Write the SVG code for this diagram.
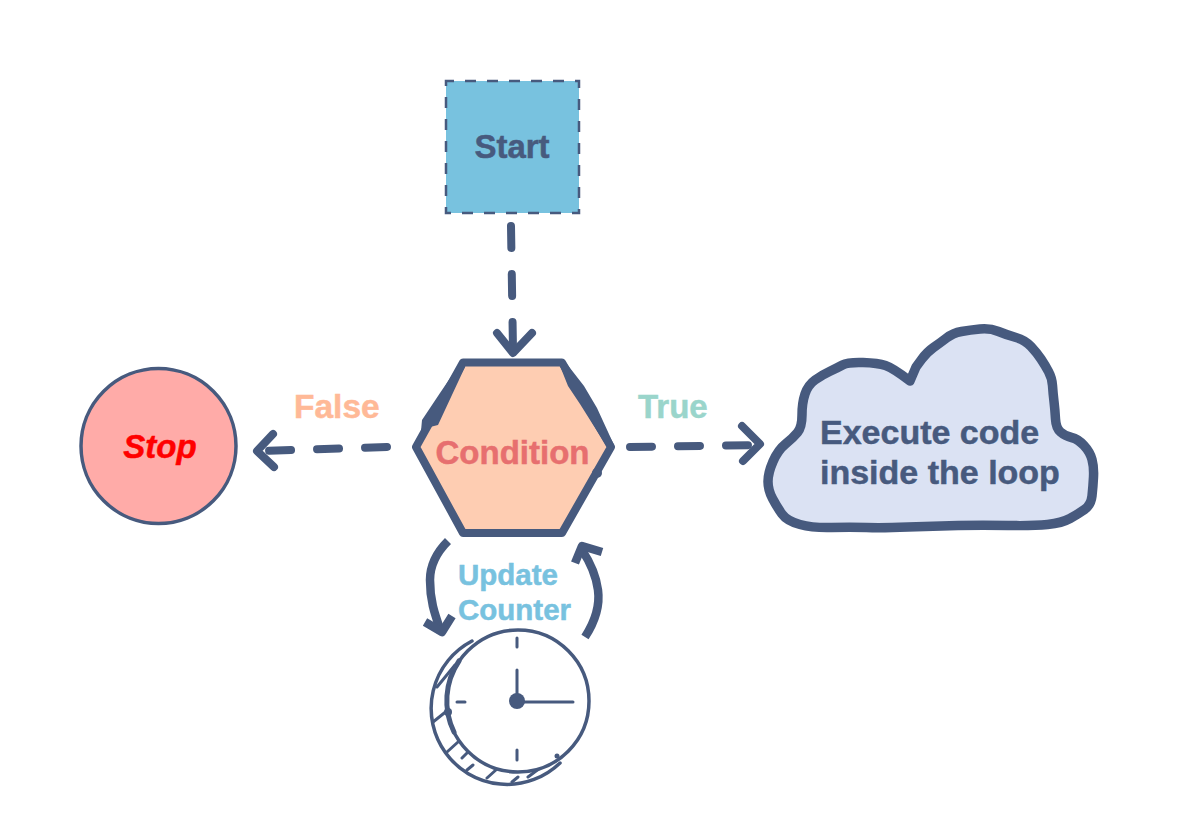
<svg xmlns="http://www.w3.org/2000/svg" width="1192" height="820" viewBox="0 0 1192 820">
<style>
text{font-family:"Liberation Sans",Arial,sans-serif;font-weight:bold;font-size:33px;stroke-width:.5px}
.ink{fill:#475a7e;stroke:#475a7e}
.mid{text-anchor:middle}
.big{font-size:34px}
.small{font-size:29.5px;fill:#78c2df;stroke:#78c2df}
.dash{fill:none;stroke:#475a7e;stroke-width:8;stroke-linecap:round;stroke-linejoin:round;stroke-dasharray:22 26}
.head{fill:none;stroke:#475a7e;stroke-width:8;stroke-linecap:round;stroke-linejoin:round}
.curve{fill:none;stroke:#475a7e;stroke-width:8.5;stroke-linejoin:round}
.thin{fill:none;stroke:#475a7e;stroke-width:3;stroke-linecap:round}
</style>
<rect width="1192" height="820" fill="#fff"/>
<g id="connectors">
<path class="dash" d="M511 226L513 350"/>
<path class="head" d="M497 333L513 353L532 333"/>
<path class="dash" d="M387 447L260 451"/>
<path class="head" d="M273 434L257 451L274 467"/>
<path class="dash" d="M630 447L758 445"/>
<path class="head" d="M742 426L760 444L743 461"/>
<path class="curve" d="M448 541C436 553 430 565 430 580C430 600 434 612 441 632"/>
<path class="curve" d="M425 622L442 632L452 616"/>
<path class="curve" d="M585 637C596 620 600 605 598 590C596 575 590 562 582 550"/>
<path class="curve" d="M575 563L582 546L602 552"/>
</g>
<g id="start">
<rect x="446" y="81" width="133" height="132" fill="#78c2df" stroke="#475a7e" stroke-width="2.500" stroke-dasharray="11 11" stroke-dashoffset="3"/>
<text class="ink mid" x="512" y="158">Start</text>
</g>
<g id="condition">
<path d="M463 362.500L562 362.500L611 447L562 533L463 533L416 447Z" fill="#fecdb2" stroke="#475a7e" stroke-width="8" stroke-linejoin="round"/>
<path class="ink" style="stroke:none" d="M563 359L584 386L597 408L614 445L607 447L580 404L568 386L560 366ZM463 359L440 393L422 420L421 431L426 428L438 425L465 367Z"/>
<circle cx="597" cy="473" r="5" class="ink" style="stroke:none"/>
<text x="512.500" y="464" class="mid" fill="#e76f6f" stroke="#e76f6f">Condition</text>
</g>
<g id="stop">
<circle cx="158.500" cy="446" r="77.500" fill="#ffaba8" stroke="#475a7e" stroke-width="3.500"/>
<text x="160" y="458" class="mid" fill="#ff0000" stroke="#ff0000" style="font-style:italic">Stop</text>
</g>
<g id="cloud">
<path d="M910 381L916 367Q916 367 921.500 359.500Q927 352 933.500 347.500Q940 343 946.500 338Q953 333 961.500 331.500Q970 330 980 329Q990 328 998.500 331.500Q1007 335 1016 337.500Q1025 340 1031 346.500Q1037 353 1041 359Q1045 365 1048.500 371.500Q1052 378 1052.500 385.500Q1053 393 1054 401.500Q1055 410 1055.500 419Q1056 428 1060.500 432Q1065 436 1071.500 437.500Q1078 439 1084 445.500Q1090 452 1092 459.500Q1094 467 1093.500 477Q1093 487 1092 496Q1091 505 1084.500 509.500Q1078 514 1070 518.500Q1062 523 1047.500 524.500Q1033 526 1008 525.500Q983 525 958 525.500Q933 526 908 527Q883 528 866.500 527.500Q850 527 831.500 527.500Q813 528 800 524.500Q787 521 782 514Q777 507 772.500 498.500Q768 490 768 481.500Q768 473 773 461.500Q778 450 785.500 444Q793 438 797.500 432.500Q802 427 802 415Q802 403 805 394Q808 385 815 380Q822 375 829.500 371.500Q837 368 842.500 365Q848 362 863 362.500Q878 363 885.500 365.500Q893 368 910 381Z" fill="#dbe2f3" stroke="#475a7e" stroke-width="9.500" stroke-linejoin="round"/>
<text class="ink big" x="820" y="444">Execute code</text>
<text class="ink big" x="820" y="484">inside the loop</text>
</g>
<g id="counter">
<path class="thin" style="stroke-width:3.500" d="M472 641A76 76 0 1 0 560 763"/>
<path class="thin" d="M437 687L455 665M433 722L448 710M447 752L458 742M462 758L467 753M467 770L473 765M487 778L497 769M512 782L518 777M528 777L540 768"/>
<circle cx="518" cy="701" r="71" fill="#fff" stroke="#475a7e" stroke-width="3.500"/>
<path class="thin" style="stroke-width:5" d="M459 661A71 71 0 0 0 454 732"/>
<path class="thin" d="M517 638V647M517 750V760M457 702H465M517 670V700M523 702H573"/>
<circle cx="517" cy="701" r="8" class="ink" style="stroke:none"/>
<circle cx="448" cy="712" r="4" class="ink" style="stroke:none"/>
<circle cx="557" cy="756" r="2.500" class="ink" style="stroke:none"/>
</g>
<g id="labels">
<text x="294" y="418" fill="#ffb997" stroke="#ffb997" style="font-size:33.500px">False</text>
<text x="638" y="418" fill="#9ad5cb" stroke="#9ad5cb">True</text>
<text class="small" x="458" y="585">Update</text>
<text class="small" x="458" y="620">Counter</text>
</g>
</svg>
